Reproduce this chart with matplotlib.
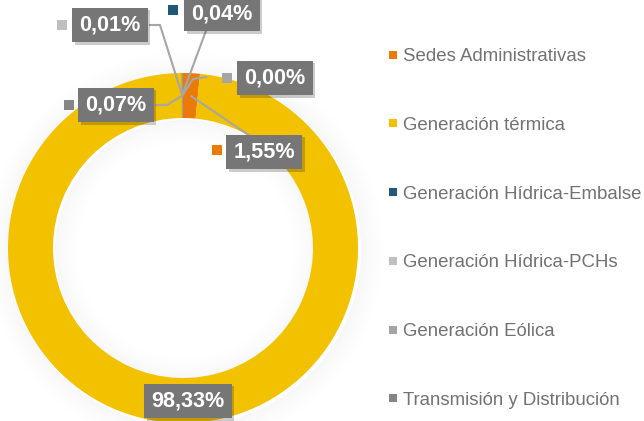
import numpy as np
import matplotlib
matplotlib.use("Agg")
import matplotlib.pyplot as plt
from matplotlib.lines import Line2D
from matplotlib.patches import Wedge
import matplotlib.patheffects as pe

plt.rcParams['font.family'] = ['Liberation Sans', 'DejaVu Sans']

# ---- data ----
categories = ["Sedes Administrativas", "Generación térmica", "Generación Hídrica-Embalse",
              "Generación Hídrica-PCHs", "Generación Eólica", "Transmisión y Distribución"]
values = [1.55, 98.33, 0.04, 0.01, 0.00, 0.07]
labels = ["1,55%", "98,33%", "0,04%", "0,01%", "0,00%", "0,07%"]
colors = ["#EC7A08", "#F2C100", "#1F5878", "#BFBFBF", "#A5A5A5", "#858585"]

W, H = 644, 421
fig = plt.figure(figsize=(W / 100, H / 100), dpi=100)
ax = fig.add_axes([0, 0, 1, 1])

def Y(y):  # image-pixel y -> axes y (y up)
    return H - y

cx, cy, R, ring = 183, Y(248), 175, 45

# soft shadow around the ring
n = 14
for k in range(n):
    a = 0.03 * (1 - k / n)
    ax.add_patch(Wedge((cx + 2, cy - 2), R + 1 + (k + 1) * 1.6, 0, 360, width=1.6,
                       facecolor='#000000', alpha=a, edgecolor='none', zorder=0))
    ax.add_patch(Wedge((cx + 2, cy - 2), R - ring - k * 1.6, 0, 360, width=1.6,
                       facecolor='#000000', alpha=a, edgecolor='none', zorder=0))

wedges, _ = ax.pie(values, colors=colors, startangle=90, counterclock=False,
                   radius=R, center=(cx, cy),
                   wedgeprops=dict(width=ring, edgecolor='none'))
for w in wedges:
    w.set_zorder(2)

ax.set_xlim(0, W)
ax.set_ylim(0, H)
ax.set_aspect('equal')
ax.axis('off')

# anchor points on ring (mid-angle, mid radius)
anchors = []
for w in wedges:
    th = np.deg2rad((w.theta1 + w.theta2) / 2)
    r = R - ring / 2
    anchors.append((cx + r * np.cos(th), cy + r * np.sin(th)))

# label layout (image pixels): text centre, marker centre, leader path points
layout = {
    0: dict(t=(264, 152), m=(217, 150), path=[(250, 136)]),
    1: dict(t=(188, 401), m=None, path=None),
    2: dict(t=(222, 14), m=(173, 10), path=[(207, 28)]),
    3: dict(t=(110, 25), m=(62, 25), path=[(160, 25), (149, 25)]),
    4: dict(t=(275, 78), m=(227, 78), path=[(193, 79), (207, 77)]),
    5: dict(t=(116, 105), m=(69, 105), path=[(167, 105), (155, 105)]),
}

box_fc = '#767676'
for i, lab in enumerate(labels):
    L = layout[i]
    if L['path'] is not None:
        xs = [anchors[i][0]] + [p[0] for p in L['path']]
        ys = [anchors[i][1]] + [Y(p[1]) for p in L['path']]
        ax.plot(xs, ys, color='#A6A6A6', lw=1.5, zorder=3, solid_capstyle='butt')
    tx, ty = L['t']
    t = ax.text(tx, Y(ty), lab, fontsize=15.6, fontweight='bold', color='white',
                ha='center', va='center', zorder=4,
                bbox=dict(boxstyle='square,pad=0.32', fc=box_fc, ec='none'))
    t.get_bbox_patch().set_path_effects([
        pe.SimplePatchShadow(offset=(2, -2), shadow_rgbFace='#000000', alpha=0.2),
        pe.Normal()])
    if L['m'] is not None:
        mx, my = L['m']
        ax.plot([mx], [Y(my)], marker='s', markersize=7, color=colors[i],
                markeredgewidth=0, zorder=4)

# legend
handles = [Line2D([], [], marker='s', linestyle='none', markersize=5.8,
                  markerfacecolor=c, markeredgewidth=0) for c in colors]
leg = ax.legend(handles, categories, loc='upper left', bbox_to_anchor=(389 / W, 1 - 48 / H),
                frameon=False, fontsize=13.4, labelcolor='#727272',
                handlelength=0.42, handletextpad=0.34, labelspacing=2.78,
                borderpad=0, borderaxespad=0)

fig.savefig('out.png', dpi=100)
